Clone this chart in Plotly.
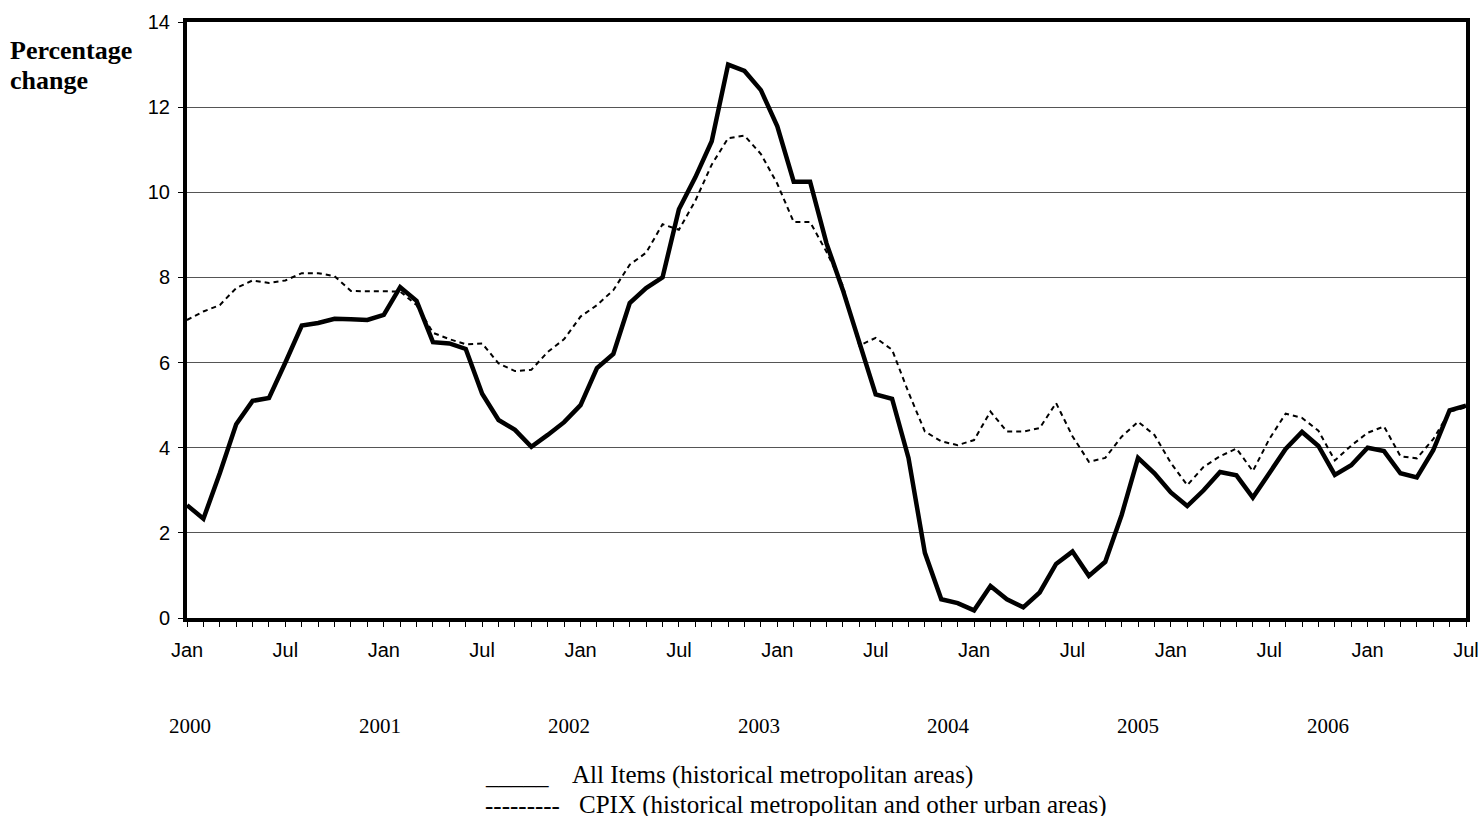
import plotly.graph_objects as go

# Monthly values, Jan 2000 .. Jul 2006 (percentage change)
all_items = [2.65, 2.33, 3.40, 4.55, 5.10, 5.17, 6.00, 6.87, 6.93, 7.03, 7.02, 7.00,
             7.12, 7.77, 7.45, 6.48, 6.45, 6.32, 5.27, 4.65, 4.42, 4.02, 4.30, 4.60,
             5.00, 5.87, 6.20, 7.40, 7.75, 8.00, 9.60, 10.35, 11.20, 13.00, 12.85, 12.40,
             11.55, 10.25, 10.25, 8.80, 7.70, 6.45, 5.25, 5.15, 3.76, 1.53, 0.44, 0.35,
             0.18, 0.75, 0.44, 0.25, 0.60, 1.27, 1.56, 0.99, 1.32, 2.42, 3.76, 3.40,
             2.95, 2.63, 3.00, 3.43, 3.35, 2.83, 3.40, 3.97, 4.37, 4.04, 3.36, 3.59,
             4.00, 3.92, 3.40, 3.30, 3.94, 4.88, 4.99]
cpix = [7.00, 7.20, 7.35, 7.75, 7.93, 7.87, 7.93, 8.10, 8.10, 8.03, 7.68, 7.68,
        7.67, 7.67, 7.35, 6.70, 6.55, 6.43, 6.45, 5.98, 5.80, 5.83, 6.25, 6.55,
        7.08, 7.35, 7.70, 8.30, 8.58, 9.25, 9.12, 9.80, 10.65, 11.27, 11.33, 10.90,
        10.20, 9.30, 9.30, 8.60, 7.80, 6.40, 6.58, 6.30, 5.30, 4.38, 4.15, 4.06,
        4.18, 4.85, 4.38, 4.38, 4.46, 5.05, 4.27, 3.67, 3.76, 4.26, 4.61, 4.30,
        3.64, 3.12, 3.55, 3.80, 3.98, 3.45, 4.20, 4.80, 4.70, 4.40, 3.70, 4.05,
        4.35, 4.50, 3.80, 3.75, 4.20, 4.85, 4.95]
month_labels = ["Jan", "Jul"]
years = ["2000", "2001", "2002", "2003", "2004", "2005", "2006"]
y_ticks = [0, 2, 4, 6, 8, 10, 12, 14]
legend_symbols = ["_____", "---------"]
legend_labels = ["All Items (historical metropolitan areas)",
                 "CPIX (historical metropolitan and other urban areas)"]

n = len(all_items)
x = list(range(n))
tick_pos = list(range(0, n, 6))
tick_text = [month_labels[(p // 6) % 2] for p in tick_pos]

# page pixel -> paper coords (plot area in page pixels: x 187..1466, y 22..618)
def px(v):
    return (v - 187) / 1279

def py(v):
    return (618 - v) / 596

fig = go.Figure()
fig.add_trace(go.Scatter(x=x, y=cpix, mode="lines",
                         line=dict(color="black", width=2, dash="5px,4px"),
                         showlegend=False))
fig.add_trace(go.Scatter(x=x, y=all_items, mode="lines",
                         line=dict(color="black", width=4.5),
                         showlegend=False))

serif = "Liberation Serif, Times New Roman, serif"
sans = "Liberation Sans, Arial, sans-serif"

fig.update_layout(
    width=1483, height=816,
    margin=dict(l=187, r=17, t=22, b=198),
    plot_bgcolor="white", paper_bgcolor="white",
    font=dict(family=sans, size=20, color="black"),
    xaxis=dict(range=[0, n - 1], tickvals=tick_pos, ticktext=tick_text,
               automargin=False,
               showgrid=False, zeroline=False,
               showline=True, linecolor="black", linewidth=4, mirror=True,
               ticks="outside", ticklen=5, tickcolor="black", tickwidth=1,
               ticklabelstandoff=6,
               minor=dict(dtick=1, tick0=0, ticks="outside", ticklen=5,
                          tickcolor="black", tickwidth=1, showgrid=False),
               tickfont=dict(family=sans, size=20, color="black")),
    yaxis=dict(range=[0, 14], tickvals=y_ticks, automargin=False,
               showgrid=True, gridcolor="#555555", gridwidth=1, zeroline=False,
               showline=True, linecolor="black", linewidth=4, mirror=True,
               ticks="outside", ticklen=5, tickcolor="black", tickwidth=1,
               ticklabelstandoff=4,
               tickfont=dict(family=sans, size=20, color="black")),
)

annotations = []
for k, yr in enumerate(years):
    annotations.append(dict(x=px(190 + 189.6 * k), y=py(726), xref="paper", yref="paper",
                            text=yr, showarrow=False, xanchor="center", yanchor="middle",
                            font=dict(family=serif, size=21, color="black")))

annotations.append(dict(x=px(8), y=py(51), xref="paper", yref="paper",
                        text="<b>Percentage</b>", showarrow=False,
                        xanchor="left", yanchor="middle",
                        font=dict(family=serif, size=26, color="black")))
annotations.append(dict(x=px(8), y=py(80), xref="paper", yref="paper",
                        text="<b>change</b>", showarrow=False,
                        xanchor="left", yanchor="middle",
                        font=dict(family=serif, size=26, color="black")))

legend_y = [775, 805]
legend_text_x = [570, 577]
for sym, label, ypix, xtext in zip(legend_symbols, legend_labels, legend_y, legend_text_x):
    annotations.append(dict(x=px(483), y=py(ypix), xref="paper", yref="paper",
                            text=sym, showarrow=False, xanchor="left", yanchor="middle",
                            font=dict(family=serif, size=25, color="black")))
    annotations.append(dict(x=px(xtext), y=py(ypix), xref="paper", yref="paper",
                            text=label, showarrow=False, xanchor="left", yanchor="middle",
                            font=dict(family=serif, size=25, color="black")))

fig.update_layout(annotations=annotations)
# remove the default 8px page margin so the figure fills the window exactly
fig.write_html("out.html",
               config={"displayModeBar": False},
               post_script="document.body.style.margin='0';document.body.style.overflow='hidden';")
